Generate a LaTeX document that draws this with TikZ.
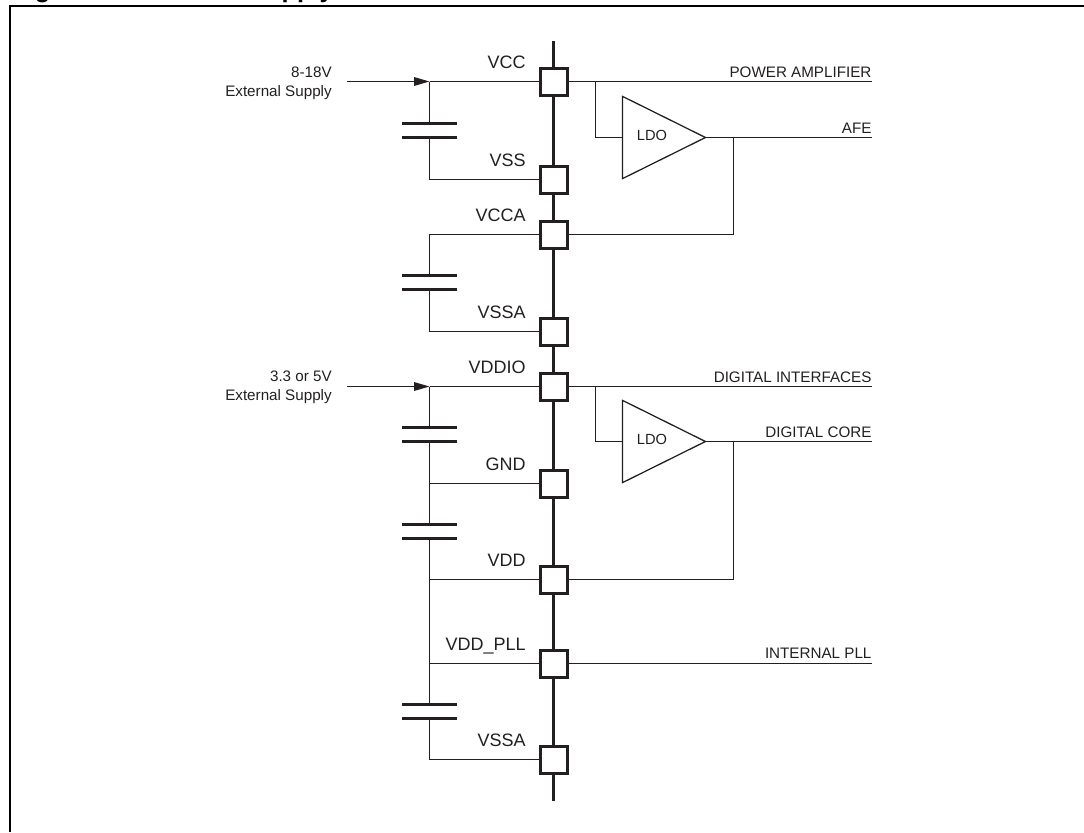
\documentclass[tikz,border=0pt]{standalone}
\usepackage{fontspec}
\setmainfont{Liberation Sans}
\usetikzlibrary{arrows.meta,shapes.geometric}
\definecolor{inkdark}{HTML}{231F20}
\tikzset{
  wire/.style={inkdark,line width=0.95pt},
  busline/.style={inkdark,line width=2.25pt},
  plate/.style={inkdark,line width=2.25pt},
  pad/.style={draw=inkdark,fill=white,line width=2.25pt,minimum size=20.25pt,inner sep=0pt,outer sep=0pt},
  pinlabel/.style={anchor=base east,inner sep=0pt,text=inkdark,font=\fontsize{13.5}{15}\selectfont},
  outlabel/.style={anchor=base east,inner sep=0pt,text=inkdark,font=\fontsize{11.4}{13}\selectfont},
  extlabel/.style={anchor=base east,inner sep=0pt,text=inkdark,font=\fontsize{11.4}{13}\selectfont},
  ldobox/.style={isosceles triangle,isosceles triangle stretches,draw=inkdark,line width=0.95pt,
    minimum width=61.7pt,minimum height=62.2pt,inner sep=0pt,outer sep=0pt,anchor=lower side},
  ldotext/.style={inner sep=0pt,text=inkdark,font=\fontsize{11}{13}\selectfont}
}
\begin{document}
\begin{tikzpicture}[x=0.75pt,y=-0.75pt]
  \useasboundingbox (0,0) rectangle (1084,832);
  \begin{scope}
    \clip (0,0) rectangle (1084,6);
    \node[anchor=base west,inner sep=0pt,font=\bfseries\fontsize{19}{21}\selectfont] (figword) at (12,-2.5) {Figure};
    \node[anchor=base west,inner sep=0pt,font=\bfseries\fontsize{19}{21}\selectfont] (supplyword) at (249,-2.5) {Supply};
  \end{scope}
  \draw[black,line width=1.7pt] (10.2,832) -- (10.2,6) -- (1084,6);

  \foreach \name/\y/\txt in {vcc/81.5/VCC, vss/179.5/VSS, vcca/234.5/VCCA, vssa/331.5/VSSA, vddio/386.5/VDDIO,
                             gnd/483.5/GND, vdd/579.5/VDD, vddpll/663.5/VDD\_PLL, vssb/759.5/VSSA} {
    \node[pad] (\name) at (553.5,\y) {};
    \node[pinlabel] (\name-label) at (526,\y-13.5) {\txt};
  }
  \coordinate (bustop) at (553.5,41);
  \coordinate (busbot) at (553.5,801);
  \foreach \a/\b in {bustop/vcc, vcc/vss, vss/vcca, vcca/vssa, vssa/vddio, vddio/gnd, gnd/vdd, vdd/vddpll, vddpll/vssb, vssb/busbot} {
    \draw[busline] (\a) -- (\b);
  }

  \coordinate (ina) at (346.7,81.5);
  \coordinate (ja) at (429.5,81.5);
  \coordinate (inb) at (346.7,386.5);
  \coordinate (jb) at (429.5,386.5);
  \draw[wire,-{Triangle[length=11.5pt,width=6.4pt]}] (ina) -- (ja);
  \draw[wire,-{Triangle[length=11.5pt,width=6.4pt]}] (inb) -- (jb);
  \draw[wire] (ja) -- (vcc);
  \draw[wire] (jb) -- (vddio);
  \node[extlabel] (vala) at (332,77.7) {8-18V};
  \node[extlabel] (exta) at (332,96) {External Supply};
  \node[extlabel] (valb) at (332,381) {3.3 or 5V};
  \node[extlabel] (extb) at (332,400.3) {External Supply};

  \foreach \name/\y in {capa/130.5, capb/282.5, capc/434.5, capd/531.5, cape/711.5} {
    \coordinate (\name-top) at (429.5,\y-7);
    \coordinate (\name-bot) at (429.5,\y+7);
    \draw[plate] (402,\y-7) -- (457,\y-7);
    \draw[plate] (402,\y+7) -- (457,\y+7);
  }
  \coordinate (jvss) at (429.5,179.5);
  \coordinate (jvcca) at (429.5,234.5);
  \coordinate (jvssa) at (429.5,331.5);
  \coordinate (jgnd) at (429.5,483.5);
  \coordinate (jvdd) at (429.5,579.5);
  \coordinate (jpll) at (429.5,663.5);
  \coordinate (jvssb) at (429.5,759.5);
  \draw[wire] (ja) -- (capa-top);
  \draw[wire] (capa-bot) -- (jvss) -- (vss);
  \draw[wire] (vcca) -- (jvcca) -- (capb-top);
  \draw[wire] (capb-bot) -- (jvssa) -- (vssa);
  \draw[wire] (jb) -- (capc-top);
  \draw[wire] (capc-bot) -- (jgnd) -- (capd-top);
  \draw[wire] (jgnd) -- (gnd);
  \draw[wire] (capd-bot) -- (jvdd) -- (jpll) -- (cape-top);
  \draw[wire] (jvdd) -- (vdd);
  \draw[wire] (jpll) -- (vddpll);
  \draw[wire] (cape-bot) -- (jvssb) -- (vssb);

  \node[ldobox] (ldoa) at (622.5,137.5) {};
  \node[ldobox] (ldob) at (622.5,441.5) {};
  \node[ldotext] (ldoatext) at (652,135.5) {LDO};
  \node[ldotext] (ldobtext) at (652,439.5) {LDO};

  \coordinate (enda) at (871.7,81.5);
  \coordinate (endb) at (871.7,137.5);
  \coordinate (endc) at (871.7,386.5);
  \coordinate (endd) at (871.7,441.5);
  \coordinate (ende) at (871.7,663.5);
  \coordinate (tapa) at (595.5,81.5);
  \coordinate (tapb) at (595.5,137.5);
  \coordinate (tapc) at (595.5,386.5);
  \coordinate (tapd) at (595.5,441.5);
  \coordinate (feeda) at (733.5,137.5);
  \coordinate (feedb) at (733.5,234.5);
  \coordinate (feedc) at (733.5,441.5);
  \coordinate (feedd) at (733.5,579.5);
  \draw[wire] (vcc) -- (enda);
  \draw[wire] (tapa) -- (tapb) -- (ldoa.lower side);
  \draw[wire] (ldoa.apex) -- (endb);
  \draw[wire] (feeda) -- (feedb) -- (vcca);
  \draw[wire] (vddio) -- (endc);
  \draw[wire] (tapc) -- (tapd) -- (ldob.lower side);
  \draw[wire] (ldob.apex) -- (endd);
  \draw[wire] (feedc) -- (feedd) -- (vdd);
  \draw[wire] (vddpll) -- (ende);
  \node[outlabel] (powlabel) at (871.7,77.3) {POWER AMPLIFIER};
  \node[outlabel] (afelabel) at (871.7,133) {AFE};
  \node[outlabel] (diflabel) at (871.7,382) {DIGITAL INTERFACES};
  \node[outlabel] (corelabel) at (871.7,437.3) {DIGITAL CORE};
  \node[outlabel] (plllabel) at (871.7,658.5) {INTERNAL PLL};
\end{tikzpicture}
\end{document}
